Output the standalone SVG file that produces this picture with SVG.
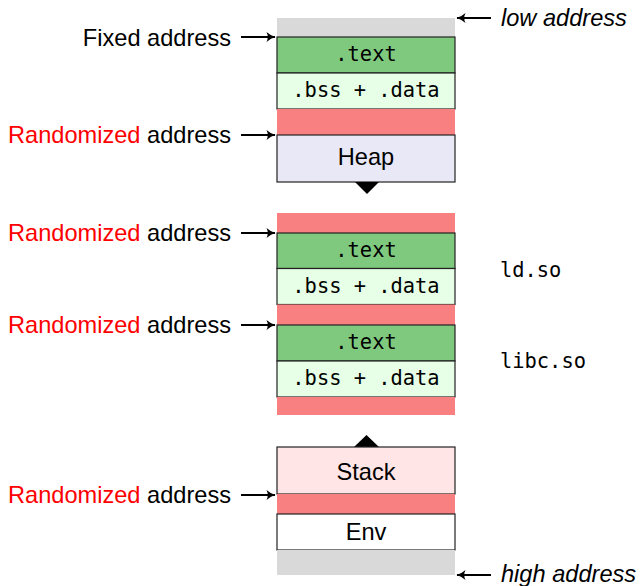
<svg xmlns="http://www.w3.org/2000/svg" width="641" height="586" viewBox="0 0 641 586">
  <style>
    .sans { font-family: "Liberation Sans", Arial, sans-serif; font-size: 23.6px; fill: #000; }
    .mono { font-family: "DejaVu Sans Mono", "Liberation Mono", monospace; font-size: 20.4px; fill: #000; }
    .it { font-style: italic; }
    .red { fill: #ff0000; }
    .box { stroke: #222; stroke-width: 1.2; }
    .text-seg { fill: #7fc97f; }
    .data-seg { fill: #e6ffe6; }
    .gap { fill: #f88080; }
    .gray { fill: #d9d9d9; }
    .heap { fill: #e8e8f6; }
    .stack { fill: #ffe5e5; }
    .env { fill: #ffffff; }
    .conn { stroke: #000; stroke-width: 1.9; fill: none; }
  </style>
  <defs>
    <!-- barbed arrow tip, drawn in user units so every connector gets the same size -->
    <marker id="arr" viewBox="-10 -6 11 12" refX="0" refY="0" markerWidth="11" markerHeight="12" markerUnits="userSpaceOnUse" orient="auto">
      <path d="M0.5,0 Q-4,-1 -8.5,-5 Q-6,0 -8.5,5 Q-4,1 0.5,0 Z" fill="#000"/>
    </marker>
  </defs>

  <!-- executable image -->
  <g id="top-pad"><rect class="gray" x="277" y="18" width="178" height="19"/></g>
  <g id="exe-text"><rect class="text-seg box" x="277" y="37" width="178" height="36"/><text class="mono" x="366" y="61" text-anchor="middle">.text</text></g>
  <g id="exe-data"><rect class="data-seg box" x="277" y="73" width="178" height="36"/><text class="mono" x="366" y="97" text-anchor="middle">.bss + .data</text></g>
  <g id="heap-gap"><rect class="gap" x="277" y="109" width="178" height="26"/></g>
  <g id="heap"><rect class="heap box" x="277" y="135" width="178" height="47"/><text class="sans" x="366" y="165" text-anchor="middle">Heap</text>
    <path d="M355,182 L379,182 L367,194 Z" fill="#000"/></g>

  <!-- shared libraries -->
  <g id="ld-gap"><rect class="gap" x="277" y="213" width="178" height="20"/></g>
  <g id="ld-text"><rect class="text-seg box" x="277" y="233" width="178" height="35.5"/><text class="mono" x="366" y="257" text-anchor="middle">.text</text></g>
  <g id="ld-data"><rect class="data-seg box" x="277" y="268.5" width="178" height="36"/><text class="mono" x="366" y="293" text-anchor="middle">.bss + .data</text></g>
  <g id="libc-gap"><rect class="gap" x="277" y="304.5" width="178" height="20.5"/></g>
  <g id="libc-text"><rect class="text-seg box" x="277" y="325" width="178" height="36"/><text class="mono" x="366" y="349" text-anchor="middle">.text</text></g>
  <g id="libc-data"><rect class="data-seg box" x="277" y="361" width="178" height="36"/><text class="mono" x="366" y="385" text-anchor="middle">.bss + .data</text></g>
  <g id="lib-end-gap"><rect class="gap" x="277" y="397" width="178" height="18"/></g>
  <g id="ld-label"><text class="mono" x="500" y="277">ld.so</text></g>
  <g id="libc-label"><text class="mono" x="500" y="368">libc.so</text></g>

  <!-- stack and environment -->
  <g id="stack"><path d="M354,447 L379,447 L366.5,435 Z" fill="#000"/>
    <rect class="stack box" x="277" y="447" width="178" height="47"/><text class="sans" x="366" y="480" text-anchor="middle">Stack</text></g>
  <g id="stack-gap"><rect class="gap" x="277" y="494" width="178" height="20"/></g>
  <g id="env"><rect class="env box" x="277" y="514" width="178" height="36"/><text class="sans" x="366" y="540" text-anchor="middle">Env</text></g>
  <g id="bottom-pad"><rect class="gray" x="277" y="550" width="178" height="25"/></g>

  <!-- address labels -->
  <g id="fixed-label"><text class="sans" x="231" y="46" text-anchor="end">Fixed address</text></g>
  <g id="rand-heap-label"><text class="sans" x="231" y="143" text-anchor="end"><tspan class="red">Randomized</tspan> address</text></g>
  <g id="rand-ld-label"><text class="sans" x="231" y="241" text-anchor="end"><tspan class="red">Randomized</tspan> address</text></g>
  <g id="rand-libc-label"><text class="sans" x="231" y="333" text-anchor="end"><tspan class="red">Randomized</tspan> address</text></g>
  <g id="rand-stack-label"><text class="sans" x="231" y="503" text-anchor="end"><tspan class="red">Randomized</tspan> address</text></g>
  <g id="low-label"><text class="sans it" x="501" y="26">low address</text></g>
  <g id="high-label"><text class="sans it" x="501" y="582">high address</text></g>

  <g id="connectors">
    <line class="conn" x1="241" y1="37" x2="275" y2="37" marker-end="url(#arr)"/>
    <line class="conn" x1="241" y1="135" x2="275" y2="135" marker-end="url(#arr)"/>
    <line class="conn" x1="241" y1="233" x2="275" y2="233" marker-end="url(#arr)"/>
    <line class="conn" x1="241" y1="325" x2="275" y2="325" marker-end="url(#arr)"/>
    <line class="conn" x1="241" y1="495" x2="275" y2="495" marker-end="url(#arr)"/>
    <line class="conn" x1="491" y1="18" x2="457" y2="18" marker-end="url(#arr)"/>
    <line class="conn" x1="491" y1="575" x2="457" y2="575" marker-end="url(#arr)"/>
  </g>
</svg>
